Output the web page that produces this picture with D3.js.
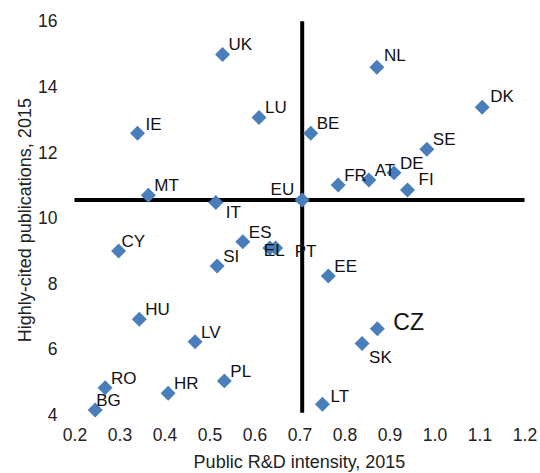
<!DOCTYPE html>
<html>
<head>
<meta charset="utf-8">
<script src="https://cdn.jsdelivr.net/npm/d3@7/dist/d3.min.js"></script>
<style>
  html, body { margin: 0; padding: 0; background: #fff; }
  svg { display: block; font-family: "Liberation Sans", Arial, sans-serif; }
</style>
</head>
<body>
<svg id="chart" width="540" height="473"></svg>
<script>
// ---- data ----
const countries = ["UK","IE","LU","MT","IT","ES","SI","CY","HU","LV","PL","HR","RO","BG",
                   "NL","DK","BE","SE","DE","AT","FR","FI","EU","EE","CZ","SK","LT","EL","PT"];
const rdIntensity = [0.529,0.340,0.610,0.364,0.514,0.574,0.517,0.298,0.344,0.468,0.533,0.408,0.268,0.246,
                     0.872,1.106,0.725,0.983,0.910,0.854,0.786,0.940,0.706,0.764,0.873,0.839,0.751,0.634,0.647];
const publications = [14.99,12.59,13.07,10.70,10.48,9.28,8.54,9.00,6.92,6.23,5.04,4.66,4.83,4.15,
                      14.60,13.38,12.59,12.10,11.38,11.16,11.01,10.86,10.55,8.24,6.63,6.18,4.33,9.09,9.09];
const xTicks = [0.2,0.3,0.4,0.5,0.6,0.7,0.8,0.9,1.0,1.1,1.2];
const yTicks = [4,6,8,10,12,14,16];
const xTitle = "Public R&D intensity, 2015";
const yTitle = "Highly-cited publications, 2015";
const referenceCountry = "EU";

// ---- layout ----
const svg = d3.select("#chart");
const x = d3.scaleLinear().domain([0.2, 1.2]).range([74.5, 524.5]);
const y = d3.scaleLinear().domain([4, 16]).range([415, 21.3]);
const blue = "#4a7ebb";

const points = countries.map((c, i) => ({ name: c, x: rdIntensity[i], y: publications[i] }));
const ref = points.find(p => p.name === referenceCountry);

// axes (no lines, labels only)
const xAxis = svg.append("g")
  .attr("transform", `translate(0,${y(4)})`)
  .call(d3.axisBottom(x).tickValues(xTicks).tickFormat(d3.format(".1f")).tickSize(0).tickPadding(14));
const yAxis = svg.append("g")
  .attr("transform", `translate(${x(0.2)},0)`)
  .call(d3.axisLeft(y).tickValues(yTicks).tickFormat(d3.format("d")).tickSize(0).tickPadding(17));
[xAxis, yAxis].forEach(g => {
  g.select(".domain").remove();
  g.selectAll("text").attr("font-size", 17.5).attr("fill", "#222").attr("font-family", "Liberation Sans, Arial, sans-serif");
});

// axis titles
svg.append("text")
  .attr("x", (x.range()[0] + x.range()[1]) / 2)
  .attr("y", 468)
  .attr("text-anchor", "middle")
  .attr("font-size", 18)
  .attr("fill", "#222")
  .text(xTitle);
svg.append("text")
  .attr("transform", `translate(31,${(y.range()[0] + y.range()[1]) / 2 + 2}) rotate(-90)`)
  .attr("text-anchor", "middle")
  .attr("font-size", 18)
  .attr("fill", "#222")
  .text(yTitle);

// cross lines through EU
svg.append("line")
  .attr("x1", x(0.2)).attr("x2", x(1.2))
  .attr("y1", y(ref.y)).attr("y2", y(ref.y))
  .attr("stroke", "#000").attr("stroke-width", 4);
svg.append("line")
  .attr("x1", x(ref.x)).attr("x2", x(ref.x))
  .attr("y1", y(16)).attr("y2", y(4.07))
  .attr("stroke", "#000").attr("stroke-width", 4);

// markers
const sym = d3.symbol().type(d3.symbolSquare).size(112);
svg.append("g").selectAll("path")
  .data(points)
  .join("path")
  .attr("d", sym)
  .attr("transform", d => `translate(${x(d.x)},${y(d.y)}) rotate(45)`)
  .attr("fill", blue);

// labels
const place = {
  IT: { dx: 10, dy: 16 },
  SK: { dx: 7, dy: 20 },
  CZ: { dx: 16, dy: 1, size: 23 },
  PT: { dx: 19, dy: 9 },
  EL: { dx: -6, dy: 8 },
  EU: { dx: -8, dy: -5, anchor: "end" },
  FI: { dx: 11, dy: -5 },
  CY: { dx: 3, dy: -4 },
  BG: { dx: 1, dy: -4 },
  DK: { dx: 8, dy: -5 },
  NL: { dx: 7, dy: -6 },
  IE: { dx: 8, dy: -3 },
  LT: { dx: 8, dy: -2 }
};
svg.append("g").selectAll("text")
  .data(points)
  .join("text")
  .attr("x", d => x(d.x) + (place[d.name] ? place[d.name].dx : 6))
  .attr("y", d => y(d.y) + (place[d.name] ? place[d.name].dy : -4))
  .attr("text-anchor", d => (place[d.name] && place[d.name].anchor) || "start")
  .attr("font-size", d => (place[d.name] && place[d.name].size) || 17)
  .attr("fill", "#111")
  .text(d => d.name);
</script>
</body>
</html>
